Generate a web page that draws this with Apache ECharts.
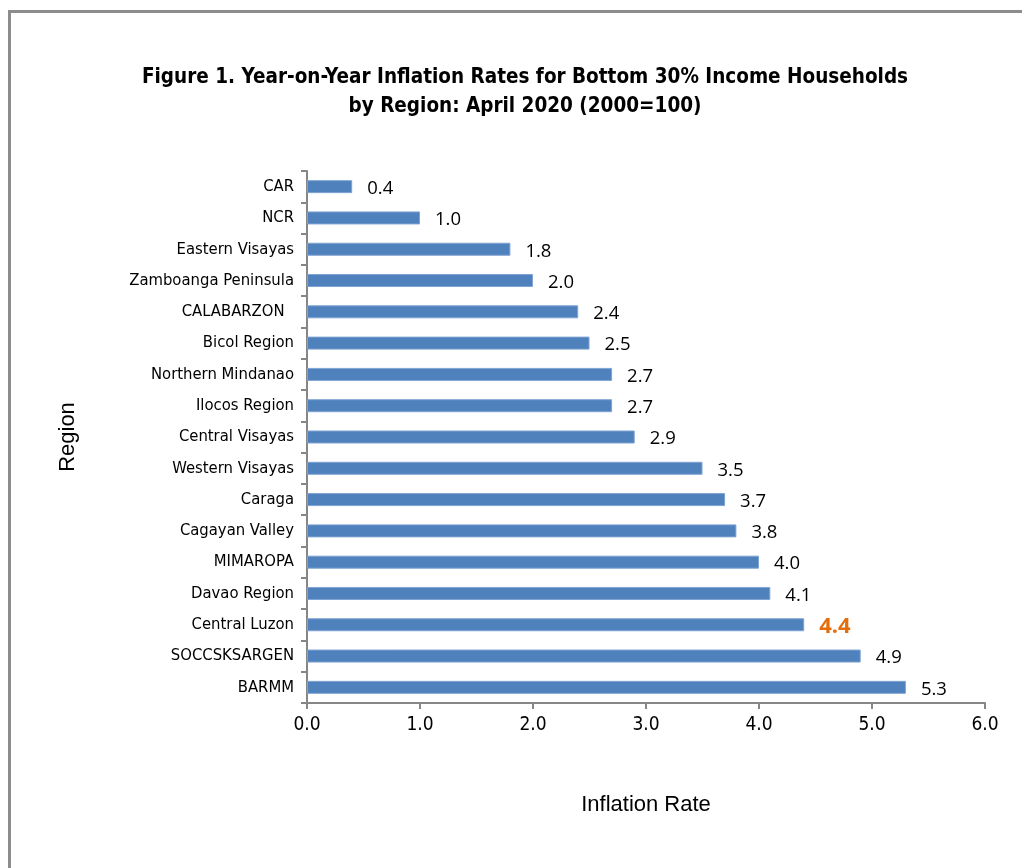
<!DOCTYPE html>
<html><head><meta charset="utf-8">
<script src="https://cdn.jsdelivr.net/npm/echarts@6/dist/echarts.min.js"></script>
<style>html,body{margin:0;padding:0;background:#fff}#c{width:1022px;height:868px}</style>
</head><body><div id="c"></div>
<script>
const regions = ["CAR","NCR","Eastern Visayas","Zamboanga Peninsula","CALABARZON  ","Bicol Region","Northern Mindanao","Ilocos Region","Central Visayas","Western Visayas","Caraga","Cagayan Valley","MIMAROPA","Davao Region","Central Luzon","SOCCSKSARGEN","BARMM"];
const rates = [0.4,1.0,1.8,2.0,2.4,2.5,2.7,2.7,2.9,3.5,3.7,3.8,4.0,4.1,4.4,4.9,5.3];
const highlighted = "Central Luzon";
const xTicks = {min:0, max:6, interval:1};

const narrow = "'Liberation Sans Narrow','Arial Narrow','DejaVu Sans Condensed',sans-serif";
const data = rates.map((v,i)=>{
  const item = {value:v};
  if (regions[i] === highlighted) {
    item.label = {color:'#E46C0A', fontWeight:'bold', fontSize:22};
  }
  return item;
});
const chart = echarts.init(document.getElementById('c'), null, {renderer:'canvas'});
chart.setOption({
  animation:false,
  backgroundColor:'#fff',
  title:{
    text:'Figure 1. Year-on-Year Inflation Rates for Bottom 30% Income Households\nby Region: April 2020 (2000=100)',
    left:520, textAlign:'center', top:58,
    textStyle:{fontFamily:narrow, fontWeight:'bold', fontSize:20.5, lineHeight:29, color:'#000'}
  },
  graphic:[
    {type:'rect', shape:{x:8, y:10, width:3, height:858}, style:{fill:'#8c8c8c'}},
    {type:'rect', shape:{x:8, y:10, width:1014, height:3}, style:{fill:'#8c8c8c'}}
  ],
  grid:{left:307, right:37, top:171, bottom:165, containLabel:false},
  xAxis:{
    type:'value', min:xTicks.min, max:xTicks.max, interval:xTicks.interval,
    name:'Inflation Rate', nameLocation:'middle', nameGap:91,
    nameTextStyle:{fontFamily:"'Liberation Sans',Arial,sans-serif", fontSize:22, color:'#000'},
    axisLine:{show:true, lineStyle:{color:'#868686', width:2}},
    axisTick:{show:true, length:6, lineStyle:{color:'#868686', width:2}},
    axisLabel:{formatter:v=>v.toFixed(1), fontFamily:narrow, fontSize:19, color:'#000', margin:13},
    splitLine:{show:false}
  },
  yAxis:{
    type:'category', data:regions, inverse:true,
    name:'Region', nameLocation:'middle', nameGap:228, nameRotate:90,
    nameTextStyle:{fontFamily:"'Liberation Sans',Arial,sans-serif", fontSize:22, color:'#000'},
    axisLine:{show:true, lineStyle:{color:'#868686', width:2}},
    axisTick:{show:true, length:6, alignWithLabel:false, lineStyle:{color:'#868686', width:2}},
    axisLabel:{fontFamily:narrow, fontSize:16.5, color:'#000', margin:13},
    splitLine:{show:false}
  },
  series:[{
    type:'bar', data:data, barWidth:13,
    itemStyle:{color:'#4F81BD', borderColor:'#7FA3D3', borderWidth:1},
    label:{show:true, position:'right', distance:15, offset:[0,2], formatter:p=>p.value.toFixed(1),
      fontFamily:"'Open Sans','Noto Sans',sans-serif", fontSize:18.5, color:'#000'}
  }]
});
</script></body></html>
